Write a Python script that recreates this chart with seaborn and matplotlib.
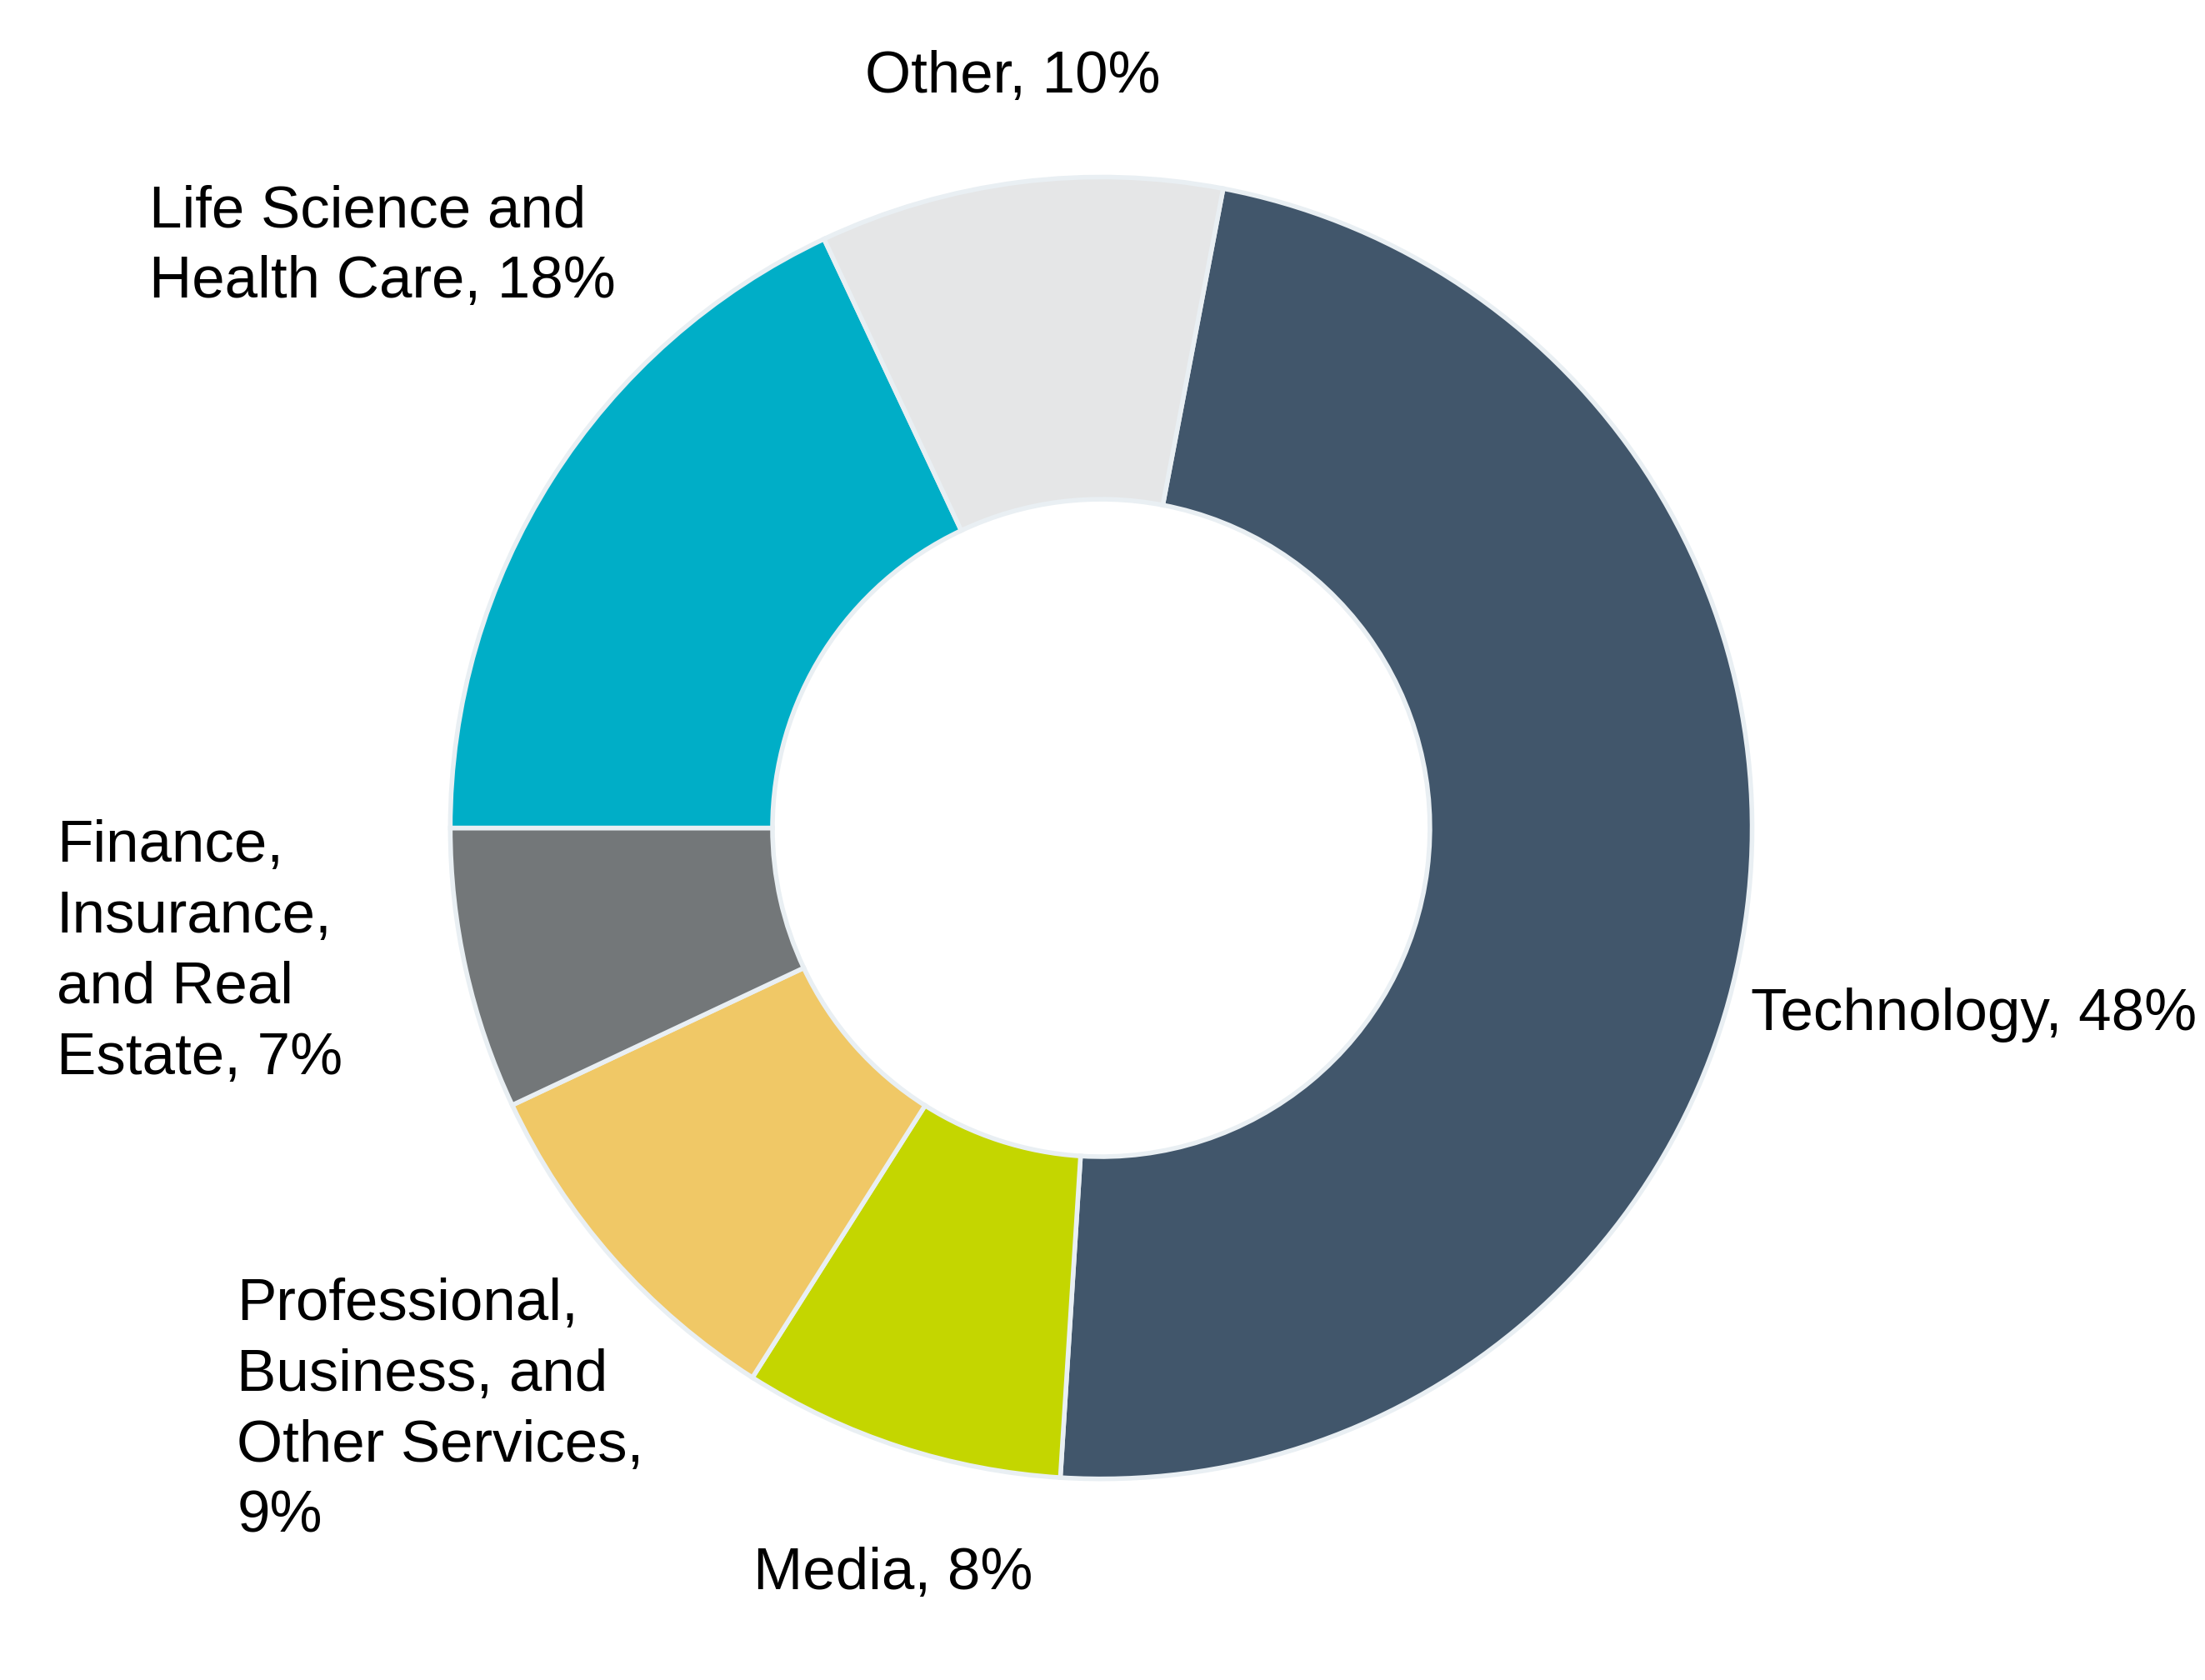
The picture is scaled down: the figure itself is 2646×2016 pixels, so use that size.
import matplotlib
matplotlib.use('Agg')
import matplotlib.pyplot as plt
import seaborn as sns

# valores del grafico (en sentido horario desde Technology)
sectors = ['Technology', 'Media', 'Professional,\nBusiness, and\nOther Services,',
           'Finance,\nInsurance,\nand Real\nEstate,', 'Life Science and\nHealth Care,', 'Other']
shares = [48, 8, 9, 7, 18, 10]
colors = ['#41566B', '#C4D600', '#F0C866', '#737779', '#00AEC7', '#E5E6E7']

# posiciones de las etiquetas (unidades del radio exterior) y alineacion
label_pos = [(0.998, -0.287, 'left'), (-0.320, -1.147, 'center'),
             (-1.328, -0.896, 'left'), (-1.605, -0.192, 'left'),
             (-1.462, 0.892, 'left'), (-0.136, 1.153, 'center')]

sns.set_style('white')
plt.rcParams['font.family'] = ['Liberation Sans', 'DejaVu Sans']

fig = plt.figure(figsize=(26.46, 20.16), dpi=100)
ax = fig.add_axes([0, 0, 1, 1])

ax.pie(shares, colors=colors, startangle=79.2, counterclock=False,
       radius=1.0,
       wedgeprops=dict(width=0.495, edgecolor='#E9EFF3', linewidth=4))

for name, val, (x, y, ha) in zip(sectors, shares, label_pos):
    if name.startswith('Professional'):
        txt = f'{name}\n{val}%'
    elif name.endswith(','):
        txt = f'{name} {val}%'
    else:
        txt = f'{name}, {val}%'
    ax.text(x, y, txt, ha=ha, va='center', multialignment='left',
            fontsize=51, color='black', linespacing=1.37)

ax.set_xlim(-1.691, 1.695)
ax.set_ylim(-1.309, 1.272)
ax.set_aspect('equal', adjustable='box')
ax.axis('off')

fig.savefig('out.png', dpi=100, facecolor='white')
